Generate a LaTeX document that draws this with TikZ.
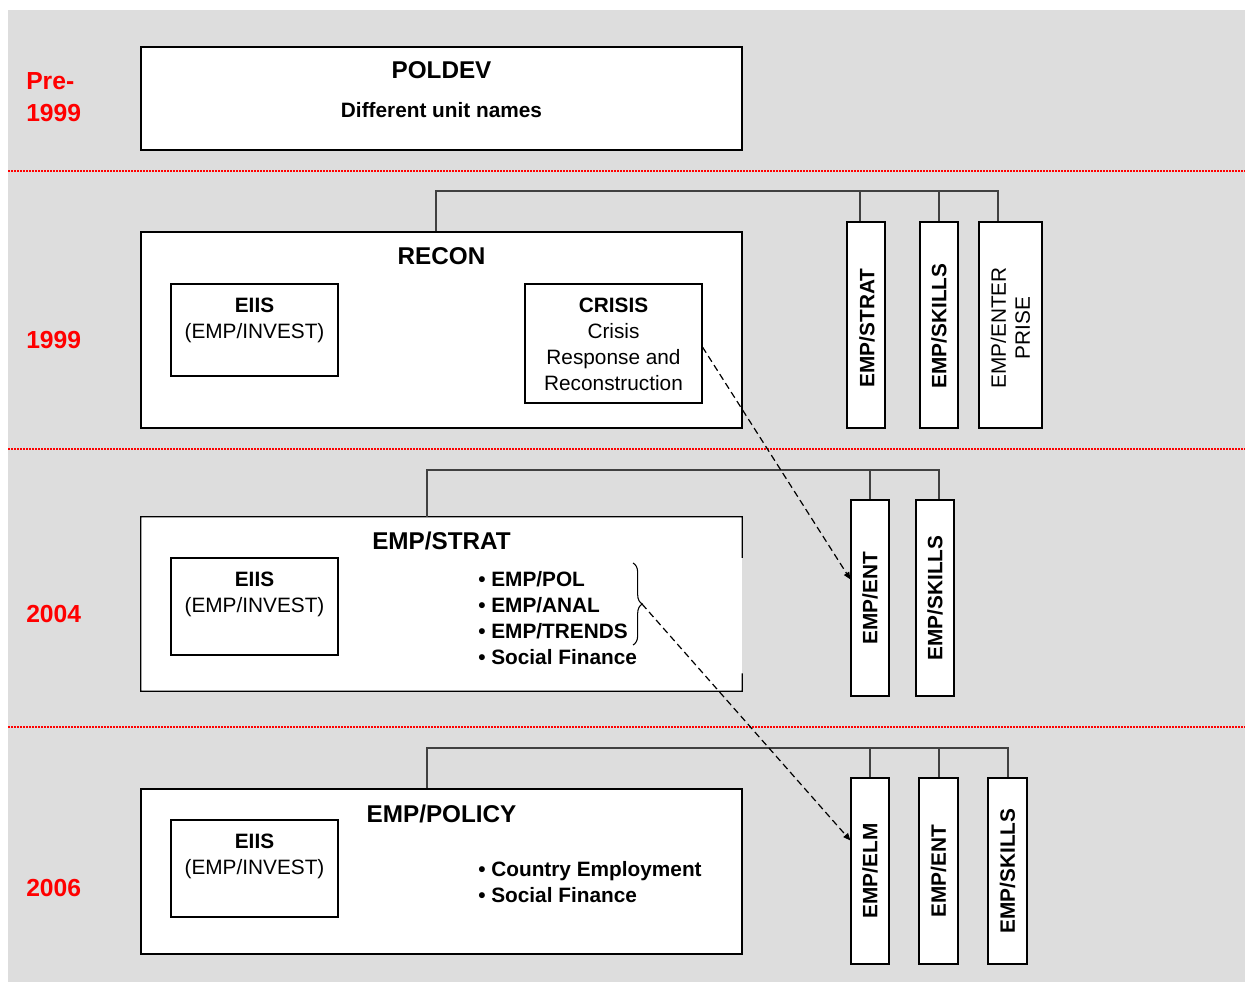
\documentclass[tikz,border=0pt]{standalone}
\usepackage{fontspec}
\setmainfont{Liberation Sans}
\usetikzlibrary{fit,calc,arrows.meta,decorations.pathreplacing}

\definecolor{panelgray}{RGB}{221,221,221}
\definecolor{erared}{RGB}{255,0,0}

\tikzset{
  unitbox/.style={draw=black, line width=0.8pt, fill=white, inner sep=0pt},
  tree/.style={draw=black!75, line width=1.1pt},
  era/.style={text=erared, font=\fontsize{18.5}{22}\selectfont\bfseries, anchor=base west, inner sep=0pt},
  title/.style={font=\fontsize{18.2}{22}\selectfont\bfseries, anchor=base, inner sep=0pt},
  body/.style={font=\fontsize{15.6}{19}\selectfont, anchor=base, inner sep=0pt},
  bodyb/.style={font=\fontsize{15.6}{19}\selectfont\bfseries, anchor=base, inner sep=0pt},
  bullet/.style={font=\fontsize{15.6}{19}\selectfont\bfseries, anchor=base west, inner sep=0pt},
  vlabel/.style={rotate=90, font=\fontsize{15.6}{19}\selectfont\bfseries, inner sep=0pt},
  vlabelr/.style={rotate=90, font=\fontsize{15.6}{18}\selectfont, align=center, inner sep=0pt},
  separator/.style={draw=erared, line width=1pt, dash pattern=on 1.5pt off 0.75pt},
  link/.style={draw=black, line width=0.9pt, dash pattern=on 5pt off 3pt,
               -{Triangle[length=5.5pt,width=4.5pt]}},
}

\begin{document}
\begin{tikzpicture}[x=0.75pt, y=-0.75pt]
\useasboundingbox (0,0) rectangle (1245,982);
\fill[panelgray] (8,10) rectangle (1245,982);

% era separators
\draw[separator] (8,171) -- (1245,171);
\draw[separator] (8,449) -- (1245,449);
\draw[separator] (8,727) -- (1245,727);

% era labels
\node[era] (pre)   at (26,89)    {Pre-};
\node[era] (pre2)  at (26,121)   {1999};
\node[era] (y1999) at (26,348.5) {1999};
\node[era] (y2004) at (26,622.5) {2004};
\node[era] (y2006) at (26,896.5) {2006};

% ---------- pre-1999 ----------
\node[unitbox, fit={(141,47) (742,150)}] (poldev) {};
\node[title] at (441.5,78)  {POLDEV};
\node[bodyb] at (441.5,117) {Different unit names};

% ---------- 1999 ----------
\node[unitbox, fit={(141,232) (742,428)}] (recon) {};
\node[title] at (441.5,264) {RECON};

\node[unitbox, fit={(171,284) (338,376)}] (eiis1) {};
\node[bodyb] at (254.5,312.5) {EIIS};
\node[body]  at (254.5,338.5) {(EMP/INVEST)};

\node[unitbox, fit={(525,284) (702,403)}] (crisis) {};
\node[bodyb] at (613.5,312.5) {CRISIS};
\node[body]  at (613.5,338.5) {Crisis};
\node[body]  at (613.5,364.5) {Response and};
\node[body]  at (613.5,390.5) {Reconstruction};

\node[unitbox, fit={(847,222) (885,428)}] (strat1) {};
\node[unitbox, fit={(920,222) (958,428)}] (skills1) {};
\node[unitbox, fit={(979,222) (1042,428)}] (ent1) {};
\node[vlabel]  at ($(strat1.center)+(1,3)$)  {EMP/STRAT};
\node[vlabel]  at ($(skills1.center)+(0,1)$) {EMP/SKILLS};
\node[vlabelr] at ($(ent1.center)+(0,3)$)    {EMP/ENTER\\PRISE};

\coordinate (b1)  at (436,191);
\coordinate (b1s) at (860,191);
\coordinate (b1k) at (939,191);
\coordinate (b1e) at (998,191);
\draw[tree] (recon.north -| b1) -- (b1) -- (b1e) -- (b1e |- ent1.north);
\draw[tree] (b1s) -- (b1s |- strat1.north);
\draw[tree] (b1k) -- (b1k |- skills1.north);

% ---------- 2004 ----------
\node[fill=white, inner sep=0pt, fit={(141,517) (742,691)}] (strat) {};
\draw[line width=0.8pt]
  ($(strat.north east)!0.236!(strat.south east)$) -- (strat.north east)
  -- (strat.north west) -- (strat.south west) -- (strat.south east)
  -- ($(strat.north east)!0.897!(strat.south east)$);
\node[title] at (441.5,549) {EMP/STRAT};

\node[unitbox, fit={(171,558) (338,655)}] (eiis2) {};
\node[bodyb] at (254.5,586.5) {EIIS};
\node[body]  at (254.5,612.5) {(EMP/INVEST)};

\node[bullet] (pol)    at (478,586.5) {\textbullet{} EMP/POL};
\node[bullet] (anal)   at (478,612.5) {\textbullet{} EMP/ANAL};
\node[bullet] (trends) at (478,638.5) {\textbullet{} EMP/TRENDS};
\node[bullet] (sf1)    at (478,664.5) {\textbullet{} Social Finance};
\draw[line width=0.8pt, decorate, decoration={brace, amplitude=7pt, aspect=0.5}]
  (633,563) -- (633,645);
\coordinate (bracetip) at (642,604);

\node[unitbox, fit={(851,500) (889,696)}] (ent2) {};
\node[unitbox, fit={(916,500) (954,696)}] (skills2) {};
\node[vlabel] at (ent2.center)    {EMP/ENT};
\node[vlabel] at (skills2.center) {EMP/SKILLS};

\coordinate (b2)  at (427,470);
\coordinate (b2e) at (870,470);
\coordinate (b2k) at (939,470);
\draw[tree] (strat.north -| b2) -- (b2) -- (b2k) -- (b2k |- skills2.north);
\draw[tree] (b2e) -- (b2e |- ent2.north);

% ---------- 2006 ----------
\node[unitbox, fit={(141,789) (742,954)}] (policy) {};
\node[title] at (441.5,822) {EMP/POLICY};

\node[unitbox, fit={(171,820) (338,917)}] (eiis3) {};
\node[bodyb] at (254.5,848.5) {EIIS};
\node[body]  at (254.5,874.5) {(EMP/INVEST)};

\node[bullet] (ce)  at (478,876.5) {\textbullet{} Country Employment};
\node[bullet] (sf2) at (478,902.5) {\textbullet{} Social Finance};

\node[unitbox, fit={(851,778) (889,964)}] (elm3) {};
\node[unitbox, fit={(919,778) (958,964)}] (ent3) {};
\node[unitbox, fit={(988,778) (1027,964)}] (skills3) {};
\node[vlabel] at (elm3.center)    {EMP/ELM};
\node[vlabel] at (ent3.center)    {EMP/ENT};
\node[vlabel] at (skills3.center) {EMP/SKILLS};

\coordinate (b3)  at (427,748);
\coordinate (b3l) at (870,748);
\coordinate (b3e) at (939,748);
\coordinate (b3k) at (1008,748);
\draw[tree] (policy.north -| b3) -- (b3) -- (b3k) -- (b3k |- skills3.north);
\draw[tree] (b3l) -- (b3l |- elm3.north);
\draw[tree] (b3e) -- (b3e |- ent3.north);

% ---------- moves between units ----------
\draw[link] ($(crisis.north east)!0.53!(crisis.south east)$)
  -- ($(ent2.north west)!0.406!(ent2.south west)$);
\draw[link] (bracetip) -- ($(elm3.north west)!0.337!(elm3.south west)$);
\end{tikzpicture}
\end{document}
